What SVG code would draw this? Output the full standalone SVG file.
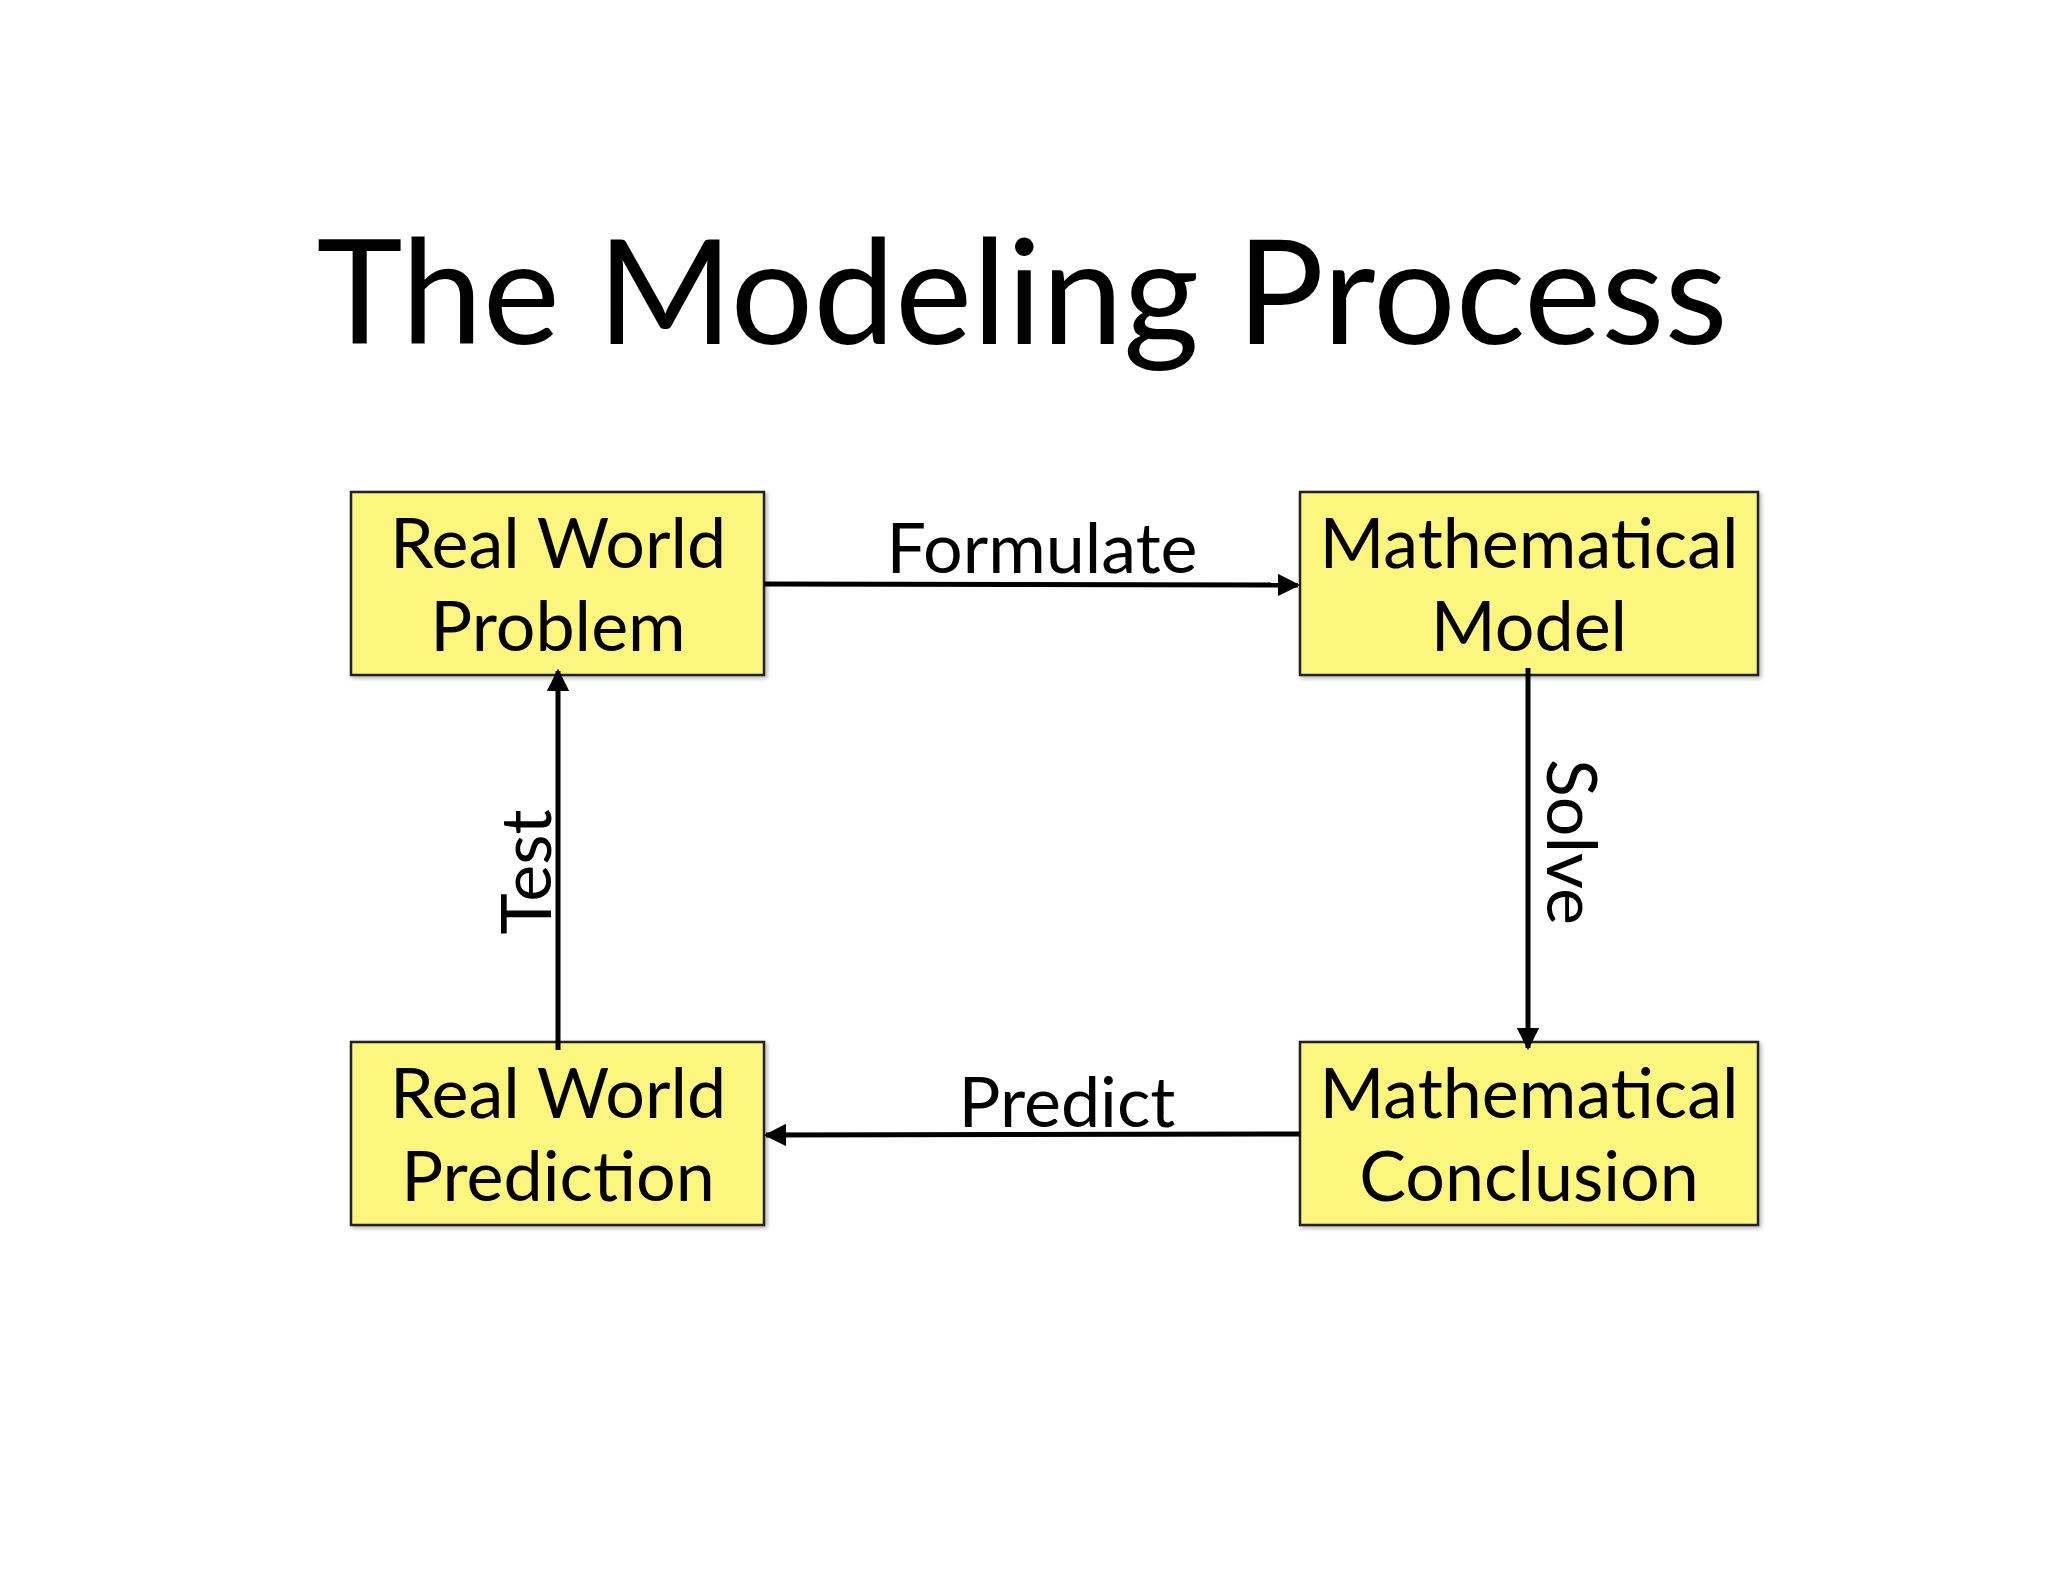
<svg xmlns="http://www.w3.org/2000/svg" width="2048" height="1582" viewBox="0 0 2048 1582">
<defs>
<style>
.box{fill:#fcf67f;stroke:#222;stroke-width:2.5}
.t{font-family:Lato,"Open Sans",sans-serif;font-size:70px;fill:#000;text-anchor:middle}
.c{stroke:#000;stroke-width:5;fill:none;marker-end:url(#ah)}
</style>
<marker id="ah" viewBox="0 0 10 10" refX="9" refY="5" markerWidth="4.5" markerHeight="4.5" orient="auto"><path d="M0,0L10,5L0,10z" fill="#000"/></marker>
<filter id="sh"><feDropShadow dx="2" dy="2" stdDeviation="2" flood-opacity="0.3"/></filter>
</defs>
<rect width="2048" height="1582" fill="#fff"/>
<text x="1022" y="344" font-family="Lato,'Open Sans',sans-serif" font-size="146" text-anchor="middle">The Modeling Process</text>
<g id="n1"><rect class="box" x="351" y="492" width="413" height="183" filter="url(#sh)"/><text class="t" x="558" y="568">Real World</text><text class="t" x="558" y="651">Problem</text></g>
<g id="n2"><rect class="box" x="1300" y="492" width="458" height="183" filter="url(#sh)"/><text class="t" x="1529" y="568">Mathematical</text><text class="t" x="1529" y="651">Model</text></g>
<g id="n3"><rect class="box" x="351" y="1042" width="413" height="183" filter="url(#sh)"/><text class="t" x="558" y="1118">Real World</text><text class="t" x="558" y="1201">Prediction</text></g>
<g id="n4"><rect class="box" x="1300" y="1042" width="458" height="183" filter="url(#sh)"/><text class="t" x="1529" y="1118">Mathematical</text><text class="t" x="1529" y="1201">Conclusion</text></g>
<g id="connectors">
<line class="c" x1="764" y1="584" x2="1298" y2="585"/>
<line class="c" x1="1528" y1="668" x2="1528" y2="1048"/>
<line class="c" x1="1300" y1="1134" x2="766" y2="1135"/>
<line class="c" x1="558" y1="1050" x2="558" y2="671"/>
<text class="t" x="1042" y="573">Formulate</text>
<text class="t" x="1067" y="1127">Predict</text>
<text class="t" transform="translate(1547,842) rotate(90)">Solve</text>
<text class="t" transform="translate(551,872) rotate(-90)">Test</text>
</g>
</svg>
